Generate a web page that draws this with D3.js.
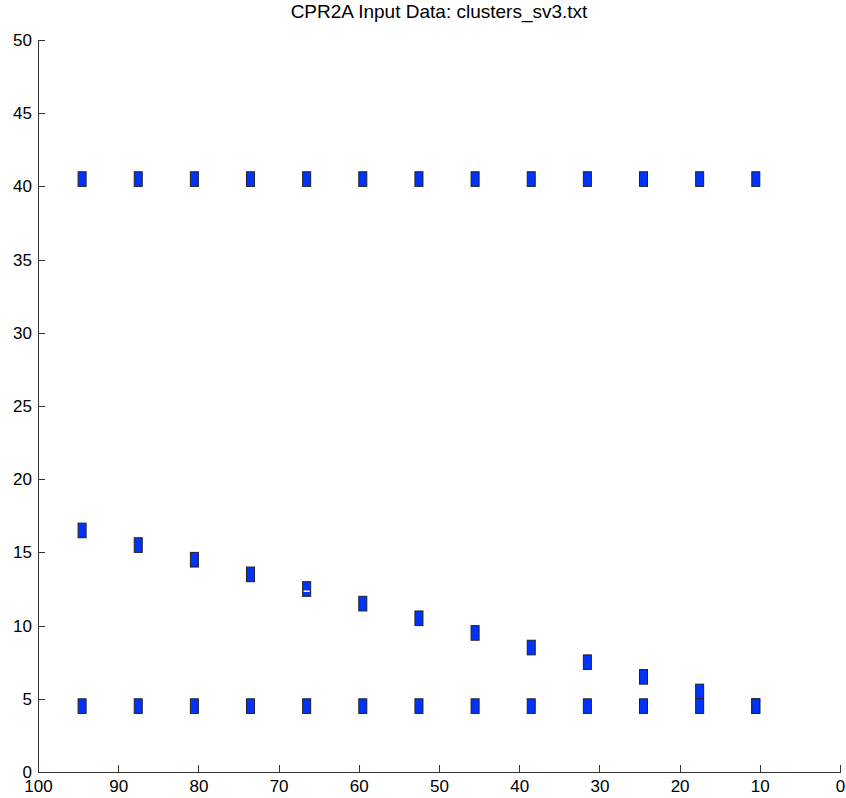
<!DOCTYPE html>
<html lang="en">

<head>
    <meta charset="utf-8">
    <style type="text/css">
        body { margin: 0; background: #fff; }
        svg { display: block; }
        .axis text { font-family: "Liberation Sans", Arial, sans-serif; font-size: 17px; fill: #000; }
        .axis path, .axis line { stroke: #333; stroke-width: 1px; shape-rendering: crispEdges; }
        .title { font-family: "Liberation Sans", Arial, sans-serif; font-size: 19px; fill: #000; }
    </style>
</head>

<body>
    <svg width="846" height="798"></svg>
    <script src="https://d3js.org/d3.v7.min.js"></script>
    <script type="text/javascript">
        // left edge of each column (cells are 1 x 1 in data units)
        var columns = [94, 87, 80, 73, 66, 59, 52, 45, 38, 31, 24, 17, 10];
        var topRow = [40, 40, 40, 40, 40, 40, 40, 40, 40, 40, 40, 40, 40];
        var diagonal = [16, 15, 14, 13, 12, 11, 10, 9, 8, 7, 6, 5, 4];
        var bottomRow = [4, 4, 4, 4, 4, 4, 4, 4, 4, 4, 4, 4, 4];
        // white seam seen inside one cell
        var seams = [{ x: 66, y: 12.35 }];

        var xTicks = [100, 90, 80, 70, 60, 50, 40, 30, 20, 10, 0];
        var yTicks = [0, 5, 10, 15, 20, 25, 30, 35, 40, 45, 50];

        var svg = d3.select("svg");

        var x = d3.scaleLinear().domain([100, 0]).range([38, 840]);
        var y = d3.scaleLinear().domain([0, 50]).range([772, 40]);

        var cells = [];
        [topRow, diagonal, bottomRow].forEach(function (row) {
            row.forEach(function (v, i) {
                cells.push({ x: columns[i], y: v });
            });
        });

        svg.append("g")
            .attr("class", "axis")
            .attr("transform", "translate(0," + y(0) + ")")
            .call(d3.axisBottom(x).tickValues(xTicks).tickSizeInner(-7).tickSizeOuter(0).tickPadding(8));

        svg.append("g")
            .attr("class", "axis")
            .attr("transform", "translate(" + x(100) + ",0)")
            .call(d3.axisLeft(y).tickValues(yTicks).tickSizeInner(-7).tickSizeOuter(0).tickPadding(6));

        svg.selectAll(".cell")
            .data(cells)
            .enter()
            .append("rect")
            .attr("class", "cell")
            .attr("x", function (d) { return x(d.x + 1); })
            .attr("y", function (d) { return y(d.y + 1); })
            .attr("width", function (d) { return x(d.x) - x(d.x + 1); })
            .attr("height", function (d) { return y(d.y) - y(d.y + 1); })
            .attr("fill", "#0033ff")
            .attr("stroke", "#222")
            .attr("stroke-width", 1);

        svg.selectAll(".seam")
            .data(seams)
            .enter()
            .append("line")
            .attr("class", "seam")
            .attr("x1", function (d) { return x(d.x + 1) + 1; })
            .attr("x2", function (d) { return x(d.x) - 1; })
            .attr("y1", function (d) { return y(d.y); })
            .attr("y2", function (d) { return y(d.y); })
            .attr("stroke", "#fff")
            .attr("stroke-width", 1.5);

        svg.append("text")
            .attr("class", "title")
            .attr("x", (x(100) + x(0)) / 2)
            .attr("y", 18)
            .attr("text-anchor", "middle")
            .text("CPR2A Input Data: clusters_sv3.txt");
    </script>
</body>

</html>
